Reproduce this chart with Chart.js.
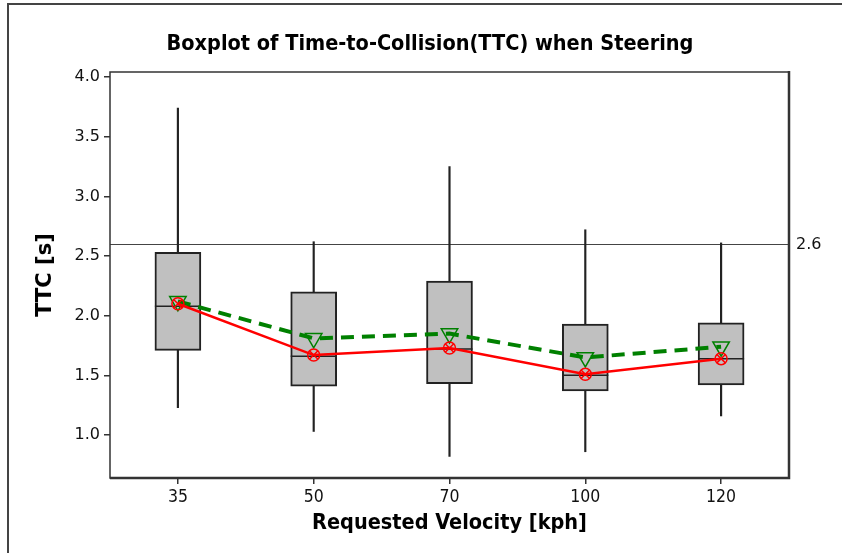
<!DOCTYPE html>
<html>
<head>
<meta charset="utf-8">
<script src="https://cdn.jsdelivr.net/npm/chart.js@4.4.0/dist/chart.umd.min.js"></script>
<style>
  html, body { margin: 0; padding: 0; background: #fff; }
  #wrap { width: 842px; height: 553px; }
</style>
</head>
<body>
<div id="wrap"><canvas id="ttcChart"></canvas></div>
<script>
// TTC per requested velocity: box statistics, means and the comparison line
const velocities = ['35', '50', '70', '100', '120'];
const whiskerLow = [1.23, 1.03, 0.82, 0.86, 1.16];
const q1 = [1.71, 1.41, 1.43, 1.37, 1.42];
const median = [2.08, 1.66, 1.72, 1.50, 1.64];
const q3 = [2.53, 2.20, 2.29, 1.93, 1.94];
const whiskerHigh = [3.74, 2.62, 3.25, 2.72, 2.61];
const meanTTC = [2.10, 1.67, 1.73, 1.51, 1.64];
const trendTTC = [2.12, 1.81, 1.85, 1.65, 1.74];
const yTicks = [1.0, 1.5, 2.0, 2.5, 3.0, 3.5, 4.0];
const thresholdTTC = 2.6;
const chartTitle = 'Boxplot of Time-to-Collision(TTC) when Steering';

const condensed = '"DejaVu Sans Condensed", "Liberation Sans Narrow", Roboto, sans-serif';
const verdanaLike = '"DejaVu Sans", Verdana, sans-serif';

// title, reference line, plot frame and page border
const framePlugin = {
  id: 'frame',
  beforeDatasetsDraw(chart) {
    const {ctx, chartArea: a, scales} = chart;
    const y = Math.round(scales.y.getPixelForValue(thresholdTTC)) + 0.5;
    ctx.save();
    ctx.strokeStyle = '#444';
    ctx.lineWidth = 1;
    ctx.beginPath();
    ctx.moveTo(a.left, y);
    ctx.lineTo(a.right, y);
    ctx.stroke();
    ctx.fillStyle = '#111';
    ctx.font = '16px ' + verdanaLike;
    ctx.textBaseline = 'middle';
    ctx.fillText(thresholdTTC.toFixed(1), a.right + 7, y);
    ctx.restore();
  },
  afterDraw(chart) {
    const {ctx, chartArea: a, width, height} = chart;
    ctx.save();
    ctx.fillStyle = '#000';
    ctx.font = 'bold 21.5px ' + condensed;
    ctx.textAlign = 'center';
    ctx.textBaseline = 'middle';
    ctx.fillText(chartTitle, 430, 44);

    ctx.strokeStyle = '#333';
    ctx.lineWidth = 1.5;
    ctx.strokeRect(a.left, a.top, a.right - a.left, a.bottom - a.top);
    ctx.lineWidth = 2.5;
    ctx.beginPath();
    ctx.moveTo(a.left, a.bottom);
    ctx.lineTo(a.right, a.bottom);
    ctx.lineTo(a.right, a.top - 1);
    ctx.stroke();
    ctx.strokeStyle = '#444';
    ctx.lineWidth = 2;
    ctx.beginPath();
    ctx.moveTo(width, 4);
    ctx.lineTo(8, 4);
    ctx.lineTo(8, height);
    ctx.stroke();
    ctx.restore();
  }
};

new Chart(document.getElementById('ttcChart'), {
  type: 'bar',
  data: {
    labels: velocities,
    datasets: [
      {
        type: 'line',
        data: meanTTC,
        borderColor: '#ff0000',
        borderWidth: 2.5,
        tension: 0,
        pointStyle: 'circle',
        pointRadius: 6,
        pointBorderWidth: 1.5,
        pointBorderColor: '#ff0000',
        pointBackgroundColor: 'rgba(0,0,0,0)',
        order: 0
      },
      {
        type: 'line',
        data: meanTTC,
        showLine: false,
        pointStyle: 'crossRot',
        pointRadius: 6,
        pointBorderWidth: 1.5,
        pointBorderColor: '#ff0000',
        order: 0
      },
      {
        type: 'line',
        data: trendTTC,
        borderColor: '#008000',
        borderWidth: 4,
        borderDash: [13, 8],
        tension: 0,
        pointStyle: 'triangle',
        pointRotation: 180,
        pointRadius: 9.5,
        pointBorderWidth: 1.5,
        pointBorderColor: '#008000',
        pointBackgroundColor: 'rgba(0,0,0,0)',
        order: 1
      },
      {
        type: 'line',
        data: median,
        showLine: false,
        pointStyle: 'line',
        pointRadius: 23,
        pointBorderWidth: 1.5,
        pointBorderColor: '#222',
        order: 2
      },
      {
        data: q1.map((v, i) => [v, q3[i]]),
        backgroundColor: '#c0c0c0',
        borderColor: '#222',
        borderWidth: 2,
        borderSkipped: false,
        barThickness: 46,
        grouped: false,
        order: 3
      },
      {
        data: whiskerLow.map((v, i) => [v, whiskerHigh[i]]),
        backgroundColor: '#222',
        borderWidth: 0,
        barThickness: 1.5,
        grouped: false,
        order: 4
      }
    ]
  },
  options: {
    responsive: true,
    maintainAspectRatio: false,
    animation: false,
    layout: { padding: { left: 0, right: 53, top: 72, bottom: 0 } },
    plugins: {
      legend: { display: false },
      tooltip: { enabled: false },
      title: { display: false }
    },
    scales: {
      x: {
        offset: true,
        grid: { drawOnChartArea: false, drawTicks: true, tickLength: 6, offset: false, color: '#333', lineWidth: 1.5 },
        border: { display: false },
        ticks: { color: '#111', padding: 3, font: { family: condensed, size: 17.5 } },
        title: {
          display: true,
          text: 'Requested Velocity [kph]',
          color: '#000',
          font: { family: condensed, size: 21.5, weight: 'bold' },
          padding: { top: 0, bottom: 17 }
        },
        afterFit: s => { s.height = 75; }
      },
      y: {
        min: 0.64,
        max: 4.042,
        afterBuildTicks: s => { s.ticks = yTicks.map(v => ({ value: v })); },
        grid: { drawOnChartArea: false, drawTicks: true, tickLength: 6, color: '#333', lineWidth: 1.5 },
        border: { display: false },
        ticks: {
          color: '#111',
          padding: 4,
          font: { family: verdanaLike, size: 16 },
          callback: v => v.toFixed(1)
        },
        title: {
          display: true,
          text: 'TTC [s]',
          color: '#000',
          font: { family: verdanaLike, size: 21, weight: 'bold' },
          padding: { top: 33, bottom: 0 }
        },
        afterFit: s => { s.width = 110; }
      }
    }
  },
  plugins: [framePlugin]
});
</script>
</body>
</html>
